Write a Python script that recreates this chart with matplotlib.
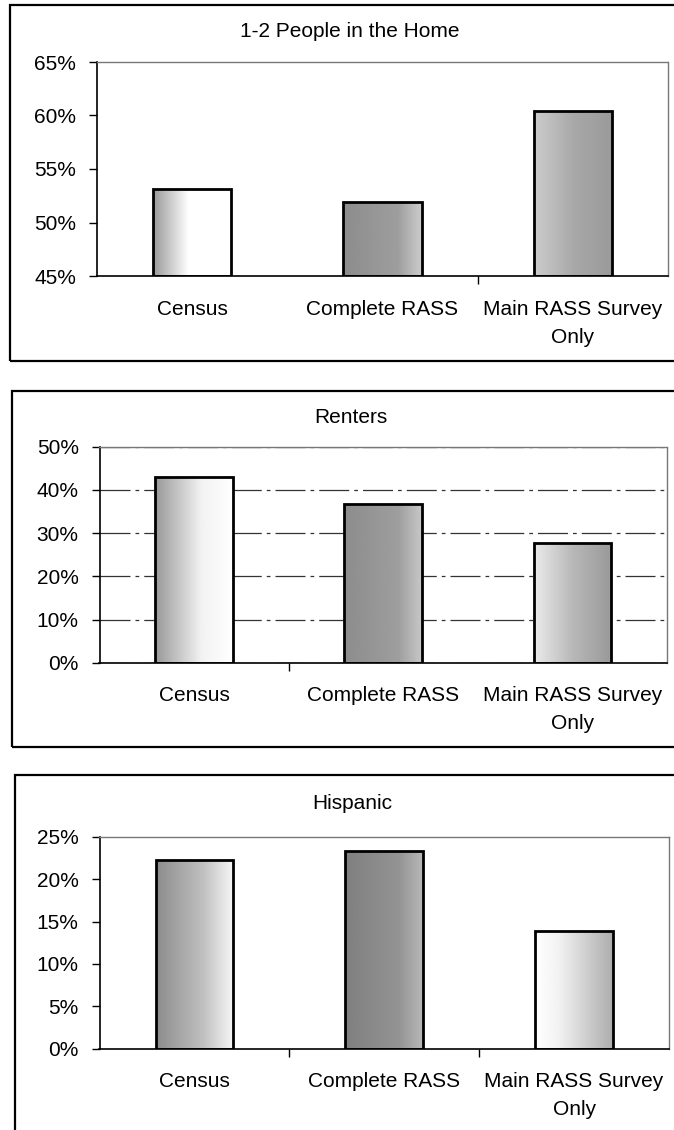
import numpy as np
import matplotlib
matplotlib.use("Agg")
import matplotlib.pyplot as plt
from matplotlib.patches import Rectangle
from matplotlib.ticker import FuncFormatter

plt.rcParams["font.family"] = ["Liberation Sans", "DejaVu Sans"]

# ---- data -------------------------------------------------------------
categories = ["Census", "Complete RASS", "Main RASS Survey\nOnly"]

people_12 = [53.1, 51.9, 60.4]     # 1-2 people in the home (%)
renters = [43.0, 36.7, 27.8]       # renters (%)
hispanic = [22.3, 23.3, 13.9]      # hispanic (%)

titles = ["1-2 People in the Home", "Renters", "Hispanic"]
ylims = [(45, 65), (0, 50), (0, 25)]
ysteps = [5, 10, 5]

# ---- layout (pixels on a 674 x 1130 canvas) ---------------------------
W, H = 674, 1130
fig = plt.figure(figsize=(W / 100, H / 100), dpi=100)
fig.patch.set_facecolor("white")

def frac_rect(x0, y_top, x1, y_bot):
    return [x0 / W, 1 - y_bot / H, (x1 - x0) / W, (y_bot - y_top) / H]

axes_px = [(97, 62, 668, 276), (99.5, 446.7, 667, 662.7), (99.5, 836.7, 669, 1048.7)]
frames_px = [(10, 5, 700, 361), (12, 391, 700, 747), (15, 775, 700, 1140)]
title_pads = [18, 17, 20]
xtick_marks = [[1.5], [0.5], [0.5, 1.5]]
grid_on = [False, True, False]

# gray levels across the stippled fill of each bar (position, level)
shade = [
    [[(0.0, 0.6), (0.45, 1.0), (1.0, 1.0)],
     [(0.0, 0.55), (0.7, 0.62), (1.0, 0.8)],
     [(0.0, 0.8), (0.5, 0.66), (1.0, 0.6)]],
    [[(0.0, 0.6), (0.6, 0.95), (1.0, 1.0)],
     [(0.0, 0.55), (0.7, 0.62), (1.0, 0.78)],
     [(0.0, 0.92), (0.5, 0.72), (1.0, 0.6)]],
    [[(0.0, 0.55), (0.6, 0.75), (1.0, 0.97)],
     [(0.0, 0.5), (0.7, 0.58), (1.0, 0.72)],
     [(0.0, 1.0), (0.3, 0.95), (1.0, 0.68)]],
]

series = [people_12, renters, hispanic]
x = np.arange(len(categories))

for i, vals in enumerate(series):
    # outer chart frame
    fx0, fy0, fx1, fy1 = frames_px[i]
    fig.add_artist(Rectangle((fx0 / W, 1 - fy1 / H), (fx1 - fx0) / W, (fy1 - fy0) / H,
                             transform=fig.transFigure, fill=False,
                             edgecolor="black", linewidth=1.6, zorder=0))

    ax = fig.add_axes(frac_rect(*axes_px[i]))
    lo, hi = ylims[i]
    bars = ax.bar(x, [v - lo for v in vals], bottom=lo, width=0.41,
                  facecolor="none", edgecolor="black", linewidth=2.0, zorder=3)

    # stippled-looking gradient fill inside each bar
    u = np.linspace(0, 1, 128)
    for b, stops in zip(bars, shade[i]):
        xs, gs = zip(*stops)
        grad = np.interp(u, xs, gs)[None, :]
        bx, by = b.get_x(), b.get_y()
        im = ax.imshow(grad, cmap="gray", vmin=0, vmax=1, aspect="auto",
                       extent=(bx, bx + b.get_width(), by, by + b.get_height()),
                       interpolation="bilinear", zorder=2)
        im.set_clip_path(b)

    ax.set_xlim(-0.5, len(categories) - 0.5)
    ax.set_ylim(lo, hi)
    ax.set_yticks(np.arange(lo, hi + 0.1, ysteps[i]))
    ax.yaxis.set_major_formatter(FuncFormatter(lambda v, p: f"{v:.0f}%"))

    ax.set_xticks(xtick_marks[i])
    ax.set_xticklabels([])
    ax.set_xticks(x, minor=True)
    ax.set_xticklabels(categories, minor=True)
    ax.tick_params(axis="x", which="major", direction="out", length=6, width=1)
    ax.tick_params(axis="x", which="minor", length=0, pad=17, labelsize=15)
    for lbl in ax.get_xticklabels(minor=True):
        lbl.set_linespacing(1.6)
    ax.tick_params(axis="y", direction="out", length=6, width=1, pad=9, labelsize=15)

    if grid_on[i]:
        ax.yaxis.grid(True, color="#333333", linewidth=0.9, linestyle=(0, (24, 4, 3, 4)))
        ax.set_axisbelow(True)

    ax.spines["left"].set_color("black")
    ax.spines["left"].set_linewidth(1.2)
    ax.spines["bottom"].set_color("black")
    ax.spines["bottom"].set_linewidth(1.2)
    for s in ("top", "right"):
        ax.spines[s].set_color("#777777")
        ax.spines[s].set_linewidth(1.0)
        ax.spines[s].set_linestyle((0, (1, 1)))

    ax.set_title(titles[i], fontsize=15, pad=title_pads[i], x=0.443)

fig.savefig("out.png", dpi=100, facecolor="white")
